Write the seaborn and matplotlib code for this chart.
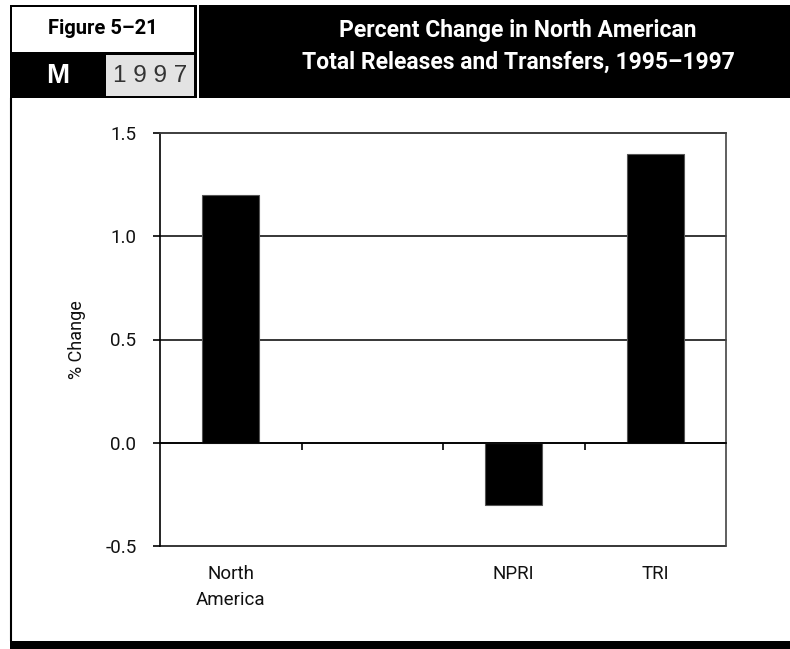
import numpy as np
import pandas as pd
import matplotlib
matplotlib.use("Agg")
import matplotlib.pyplot as plt
from matplotlib.patches import Rectangle
from matplotlib.lines import Line2D
from matplotlib.ticker import FixedLocator
import seaborn as sns

# ---- data ----
categories = ["North\nAmerica", " ", "NPRI", "TRI"]
pct_change = [1.2, np.nan, -0.3, 1.4]
y_ticks = [-0.5, 0.0, 0.5, 1.0, 1.5]
y_tick_labels = ["-0.5", "0.0", "0.5", "1.0", "1.5"]
title_lines = "Percent Change in North American\nTotal Releases and Transfers, 1995\u20131997"
figure_label = "Figure 5\u201321"
section_letter = "M"
year_label = "1 9 9 7"
y_label = "% Change"

sns.set_theme(style="white")
NARROW = ["Roboto", "DejaVu Sans"]
WIDE = ["Liberation Sans", "DejaVu Sans"]
plt.rcParams["font.family"] = NARROW

W, H = 790, 649
fig = plt.figure(figsize=(W / 100, H / 100), dpi=100)
fig.patch.set_facecolor("white")

def fx(px):
    return px / W

def fy(py):
    return 1 - py / H

def frect(x0, y0, x1, y1, **kw):
    fig.patches.append(Rectangle((fx(x0), fy(y1)), fx(x1) - fx(x0), fy(y0) - fy(y1),
                                 transform=fig.transFigure, figure=fig, **kw))

# header
frect(10, 5, 790, 98, facecolor="black", edgecolor="none")
frect(12, 7, 194, 52, facecolor="white", edgecolor="none")
frect(106, 55, 194, 96, facecolor="#e3e3e3", edgecolor="none")
frect(196.5, 5, 199, 98, facecolor="white", edgecolor="none")
# bottom band
frect(10, 641, 790, 649, facecolor="black", edgecolor="none")
# left border
fig.lines.append(Line2D([fx(11), fx(11)], [fy(98), fy(641)], transform=fig.transFigure,
                        color="black", lw=1.5))

fig.text(fx(103), fy(29), figure_label, ha="center", va="center", fontsize=14.5,
         fontweight="bold", color="black", family=NARROW)
fig.text(fx(58), fy(76), section_letter, ha="center", va="center", fontsize=20,
         fontweight="bold", color="white", family=WIDE)
fig.text(fx(150), fy(76), year_label, ha="center", va="center", fontsize=17.5,
         color="#333333", family=WIDE)
fig.text(fx(518), fy(46), title_lines, ha="center", va="center", fontsize=16.5,
         fontweight="bold", color="white", linespacing=1.5, family=NARROW)

# plot axes
ax = fig.add_axes([fx(160), fy(546), fx(726) - fx(160), fy(133) - fy(546)])
df = pd.DataFrame({"cat": categories, "val": pct_change})
sns.barplot(data=df, x="cat", y="val", order=categories, color="black",
            saturation=1, width=0.4, errorbar=None, edgecolor="#555555",
            linewidth=0.8, ax=ax)

ax.set_ylim(-0.5, 1.5)
ax.set_xlim(-0.5, 3.5)
ax.yaxis.set_major_locator(FixedLocator(y_ticks))
ax.set_yticklabels(y_tick_labels)
ax.yaxis.grid(True, color="black", lw=1.1)
ax.xaxis.grid(False)
ax.set_axisbelow(True)
for gl in ax.get_ygridlines():
    gl.set_clip_on(False)

ax.spines["bottom"].set_position(("data", 0))
for s in ["left", "bottom"]:
    ax.spines[s].set_color("black")
    ax.spines[s].set_linewidth(1.2)
for s in ["top", "right"]:
    ax.spines[s].set_color("#444444")
    ax.spines[s].set_linewidth(1.2)
ax.spines["top"].set_visible(True)
ax.spines["right"].set_visible(True)

ax.set_xticks(range(len(categories)))
ax.set_xticklabels(categories, fontsize=13.5, family=NARROW, color="#111111",
                   linespacing=1.6)
ax.tick_params(axis="x", which="major", length=0, pad=88)
ax.set_xticks([i + 0.5 for i in range(len(categories) - 1)], minor=True)
ax.tick_params(axis="x", which="minor", bottom=True, direction="out", length=5,
               width=1.2, color="black")
ax.tick_params(axis="y", left=True, direction="out", length=5, width=1.2,
               color="black", labelsize=13.5, pad=12, labelcolor="#111111")
for lab in ax.get_yticklabels():
    lab.set_family(NARROW)
ax.set_xlabel("")
ax.set_ylabel(y_label, fontsize=13, family=NARROW, labelpad=14, color="#111111")
ax.set_facecolor("white")

fig.savefig("out.png", dpi=100, facecolor="white")
